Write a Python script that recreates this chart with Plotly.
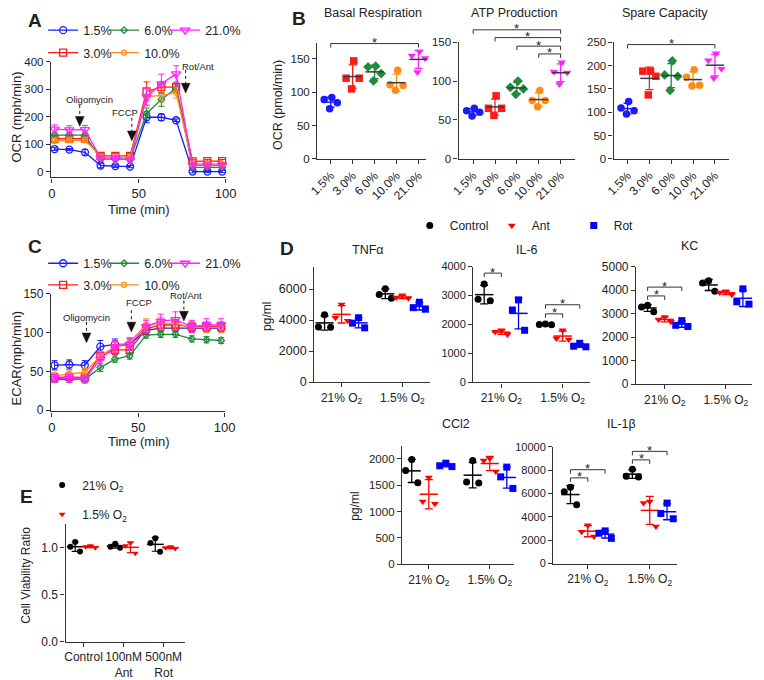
import numpy as np
import plotly.graph_objects as go

W, H = 764, 680

# ====================== DATA ======================
time_min = [1.5, 10, 19, 28, 36.5, 45, 54.5, 63, 71.5, 81, 89.5, 98]
o2_levels = ["1.5%", "3.0%", "6.0%", "10.0%", "21.0%"]

# Panel A: OCR kinetics (mean / error) in o2_levels order
ocr_mean = [
    [82, 80, 70, 22, 20, 18, 198, 198, 187, 0, 0, 0],
    [120, 120, 120, 57, 57, 57, 292, 308, 308, 37, 38, 38],
    [133, 133, 133, 45, 45, 45, 212, 263, 304, 15, 15, 15],
    [113, 115, 115, 55, 52, 52, 272, 278, 288, 28, 28, 28],
    [155, 152, 153, 50, 48, 42, 272, 320, 356, 23, 23, 23],
]
ocr_err = [
    [5, 4, 10, 8, 5, 4, 20, 12, 5, 5, 4, 4],
    [12, 12, 12, 8, 8, 8, 35, 20, 15, 6, 6, 6],
    [8, 8, 8, 8, 6, 5, 20, 25, 15, 5, 5, 5],
    [10, 10, 10, 8, 6, 6, 30, 25, 20, 5, 5, 5],
    [15, 15, 15, 8, 8, 6, 30, 35, 30, 6, 6, 6],
]
# Panel C: ECAR kinetics
ecar_mean = [
    [58, 59, 58, 82, 85, 85, 103, 106, 106, 106, 106, 106],
    [42, 43, 42, 70, 78, 78, 105, 110, 110, 108, 108, 108],
    [40, 40, 40, 55, 66, 70, 97, 98, 98, 92, 91, 90],
    [44, 47, 49, 70, 82, 88, 110, 112, 112, 107, 107, 107],
    [41, 41, 40, 66, 82, 85, 108, 115, 117, 108, 110, 110],
]
ecar_err = [
    [6, 6, 6, 8, 7, 7, 5, 5, 5, 5, 5, 5],
    [5, 5, 5, 6, 6, 6, 7, 7, 7, 6, 6, 6],
    [4, 4, 4, 5, 4, 4, 4, 4, 4, 4, 4, 4],
    [5, 5, 5, 6, 6, 6, 8, 8, 8, 7, 7, 7],
    [5, 5, 5, 8, 8, 8, 8, 9, 10, 8, 8, 8],
]

# Panel B: individual replicates per O2 level
basal_resp = [[92, 89, 84, 75], [147, 121, 121, 105], [139, 138, 128, 117],
              [133, 111, 110, 103], [161, 155, 151, 130]]
atp_prod = [[65, 62, 60, 55], [81, 65, 65, 56], [100, 92, 90, 83],
            [88, 75, 75, 67], [124, 112, 111, 96]]
spare_cap = [[123, 109, 103, 96], [188, 188, 177, 137], [210, 180, 177, 147],
             [191, 175, 158, 156], [226, 211, 193, 173]]

# Panel D: cytokines, [condition][O2 group][replicate]
conditions = ["Control", "Ant", "Rot"]
o2_groups = ["21% O<sub>2</sub>", "1.5% O<sub>2</sub>"]
tnfa_pg = [[[4350, 3560, 3540], [6020, 5650, 5400]],
           [[5000, 4150, 3950], [5600, 5450, 5400]],
           [[4150, 3800, 3500], [5150, 4800, 4700]]]
il6_pg = [[[3400, 2870, 2820], [2020, 2000, 1990]],
          [[1800, 1750, 1650], [1800, 1520, 1480]],
          [[2850, 2500, 1800], [1350, 1250, 1230]]]
kc_pg = [[[3350, 3280, 3080], [4400, 4300, 3950]],
         [[2850, 2750, 2650], [3950, 3900, 3800]],
         [[2700, 2500, 2450], [4050, 3500, 3400]]]
ccl2_pg = [[[1990, 1780, 1550], [1970, 1560, 1545]],
           [[1650, 1190, 1150], [2010, 1970, 1760]],
           [[1920, 1870, 1855], [1845, 1660, 1440]]]
il1b_pg = [[[6530, 6160, 5040], [8070, 7480, 7420]],
           [[3280, 2720, 2330], [5320, 5180, 3170]],
           [[2800, 2600, 2160], [5180, 4290, 3840]]]

# Panel E: cell viability [treatment][replicate]
treatments = ["Control", "100nM<br>Ant", "500nM<br>Rot"]
viability_21 = [[1.06, 1.01, 0.96], [1.04, 1.01, 1.00], [1.10, 1.05, 0.955]]
viability_15 = [[1.02, 1.01, 1.00], [1.05, 1.02, 0.94], [1.01, 1.00, 0.99]]

# ====================== LAYOUT GEOMETRY (pixels) ======================
AX = {
    1: dict(x=(43, 223), y=(56, 174), xr=(-0.6, 100.5), yr=(-21.4, 400)),
    2: dict(x=(316, 428), y=(37, 155), xr=(-0.62, 4.36), yr=(0, 173.5)),
    3: dict(x=(461, 580), y=(36, 155), xr=(-0.67, 4.64), yr=(0, 150)),
    4: dict(x=(620, 738), y=(36, 155), xr=(-0.64, 4.63), yr=(0, 250)),
    5: dict(x=(43, 222), y=(293, 413), xr=(-0.6, 100.5), yr=(-1.6, 150)),
    6: dict(x=(313, 432), y=(265, 383), xr=(-0.45, 1.46), yr=(0, 7450)),
    7: dict(x=(476, 596), y=(265, 383.3), xr=(-0.46, 1.45), yr=(0, 4000)),
    8: dict(x=(643, 762), y=(265, 385), xr=(-0.47, 1.43), yr=(0, 5000)),
    9: dict(x=(403, 518), y=(448, 569), xr=(-0.44, 1.40), yr=(0, 2250)),
    10: dict(x=(558, 685), y=(449, 568.3), xr=(-0.56, 1.44), yr=(0, 10000)),
    11: dict(x=(58, 180), y=(528, 648), xr=(-0.45, 2.52), yr=(0, 1.25)),
}


def ax_px(n, xv, yv):
    s = AX[n]
    (xl, xrr), (yt, yb) = s["x"], s["y"]
    (r0, r1), (q0, q1) = s["xr"], s["yr"]
    X = xl + (xv - r0) / (r1 - r0) * (xrr - xl)
    Y = yb - (yv - q0) / (q1 - q0) * (yb - yt)
    return X, Y


FONT = "Liberation Sans, Arial, sans-serif"
TXT = "#222222"
LINE = "#333333"

layout = dict(
    width=W, height=H, margin=dict(l=0, r=0, t=0, b=0),
    paper_bgcolor="white", plot_bgcolor="white",
    font=dict(family=FONT, color=TXT, size=12),
    showlegend=True,
)


def add_axes(n, xtv, xtt, ytv, xfs, yfs, xangle=0, yfmt=None):
    sx = "" if n == 1 else str(n)
    s = AX[n]
    common = dict(showline=True, linecolor=LINE, linewidth=1.2, ticks="outside",
                  ticklen=4, tickwidth=1.2, tickcolor=LINE, showgrid=False,
                  zeroline=False, fixedrange=True)
    layout["xaxis" + sx] = dict(domain=[s["x"][0] / W, s["x"][1] / W], range=list(s["xr"]),
                                anchor="y" + sx, tickmode="array", tickvals=xtv, ticktext=xtt,
                                tickfont=dict(size=xfs, color=TXT), tickangle=xangle, **common)
    ytt = [(yfmt % v) if yfmt else str(v) for v in ytv]
    layout["yaxis" + sx] = dict(domain=[1 - s["y"][1] / H, 1 - s["y"][0] / H], range=list(s["yr"]),
                                anchor="x" + sx, tickmode="array", tickvals=ytv, ticktext=ytt,
                                tickfont=dict(size=yfs, color=TXT), **common)


tv_time = [0, 50, 100]
add_axes(1, tv_time, [str(v) for v in tv_time], [0, 100, 200, 300, 400], 13, 11.5)
cat_idx = list(range(len(o2_levels)))
add_axes(2, cat_idx, o2_levels, [0, 50, 100, 150], 12, 11.5, xangle=-45)
add_axes(3, cat_idx, o2_levels, [0, 50, 100, 150], 12, 11.5, xangle=-45)
add_axes(4, cat_idx, o2_levels, [0, 50, 100, 150, 200, 250], 12, 11.5, xangle=-45)
add_axes(5, tv_time, [str(v) for v in tv_time], [0, 50, 100, 150], 13, 12)
grp_idx = [0, 1]
add_axes(6, grp_idx, o2_groups, [0, 2000, 4000, 6000], 12, 12.5)
add_axes(7, grp_idx, o2_groups, [0, 1000, 2000, 3000, 4000], 12, 11)
add_axes(8, grp_idx, o2_groups, [0, 1000, 2000, 3000, 4000, 5000], 12, 12)
add_axes(9, grp_idx, o2_groups, [0, 500, 1000, 1500, 2000], 12, 11.5)
add_axes(10, grp_idx, o2_groups, [0, 2000, 4000, 6000, 8000, 10000], 12, 11)
add_axes(11, list(range(len(treatments))), treatments, [0, 0.5, 1.0], 12, 12, yfmt="%.1f")


def axref(n):
    return ("x", "y") if n == 1 else ("x%d" % n, "y%d" % n)


fig = go.Figure()

# ---------------- Panels A & C: kinetic curves ----------------
lvl_color = ["#1a1aff", "#ff1a1a", "#1e8c3a", "#ff8c1a", "#ff22ff"]
lvl_symbol_line = ["circle-open", "square-open", "diamond-open", "circle-open", "triangle-down-open"]
lvl_size_line = [7, 7, 5, 5, 8]
row1 = ["1.5%", "6.0%", "21.0%"]

for n, means, errs, legs in [(1, ocr_mean, ocr_err, ("legend", "legend2")),
                             (5, ecar_mean, ecar_err, ("legend3", "legend4"))]:
    xr_, yr_ = axref(n)
    for i, lvl in enumerate(o2_levels):
        c = lvl_color[i]
        fig.add_trace(go.Scatter(
            x=time_min, y=means[i], xaxis=xr_, yaxis=yr_, mode="lines+markers", name=lvl,
            legend=legs[0] if lvl in row1 else legs[1],
            legendwidth=34 if lvl in ("21.0%", "10.0%") else None,
            line=dict(color=c, width=1.3),
            marker=dict(symbol=lvl_symbol_line[i], size=lvl_size_line[i], color=c,
                        line=dict(color=c, width=1.3)),
            error_y=dict(type="data", array=errs[i], color=c, thickness=1, width=3),
            cliponaxis=False,
        ))

# ---------------- Panel B: dot plots ----------------
lvl_symbol_dot = ["circle", "square", "diamond", "circle", "triangle-down"]
jit4 = [0.05, -0.3, 0.3, -0.05]
for n, data in [(2, basal_resp), (3, atp_prod), (4, spare_cap)]:
    xr_, yr_ = axref(n)
    for i, vals in enumerate(data):
        c = lvl_color[i]
        fig.add_trace(go.Scatter(
            x=[i + j for j in jit4], y=vals, xaxis=xr_, yaxis=yr_, mode="markers",
            showlegend=False, marker=dict(symbol=lvl_symbol_dot[i], size=7.5, color=c),
            cliponaxis=False))
        fig.add_trace(go.Scatter(
            x=[i], y=[float(np.mean(vals))], xaxis=xr_, yaxis=yr_, mode="markers",
            showlegend=False,
            marker=dict(symbol="line-ew", size=13, line=dict(width=1.5, color="#3a3a3a" if i else c)),
            error_y=dict(type="data", array=[float(np.std(vals, ddof=1))], color=c,
                         thickness=1.3, width=4),
            cliponaxis=False))

# ---------------- Panel D: cytokines ----------------
cond_color = ["#000000", "#ff0000", "#0000ff"]
cond_symbol = ["circle", "triangle-down", "square"]
cond_off = [-0.28, 0.0, 0.28]
jit3 = [0.0, -0.1, 0.1]
for n, data in [(6, tnfa_pg), (7, il6_pg), (8, kc_pg), (9, ccl2_pg), (10, il1b_pg)]:
    xr_, yr_ = axref(n)
    for k, cond in enumerate(conditions):
        xs, ys, mx, my, sd = [], [], [], [], []
        for g, vals in enumerate(data[k]):
            xs += [g + cond_off[k] + j for j in jit3]
            ys += vals
            mx.append(g + cond_off[k])
            my.append(float(np.mean(vals)))
            sd.append(float(np.std(vals, ddof=1)))
        fig.add_trace(go.Scatter(
            x=xs, y=ys, xaxis=xr_, yaxis=yr_, mode="markers", name=cond,
            legend="legend5", showlegend=(n == 6),
            legendwidth=30 if k == 2 else None,
            marker=dict(symbol=cond_symbol[k], size=7, color=cond_color[k]),
            cliponaxis=False))
        fig.add_trace(go.Scatter(
            x=mx, y=my, xaxis=xr_, yaxis=yr_, mode="markers", showlegend=False,
            marker=dict(symbol="line-ew", size=13, line=dict(width=1.5, color=cond_color[k])),
            error_y=dict(type="data", array=sd, color=cond_color[k], thickness=1.3, width=4),
            cliponaxis=False))

# ---------------- Panel E: viability ----------------
xr_, yr_ = axref(11)
for data, name, c, sym, off, leg in [
        (viability_21, "21% O<sub>2</sub>", "#000000", "circle", -0.21, "legend6"),
        (viability_15, "1.5% O<sub>2</sub>", "#ff0000", "triangle-down", 0.17, "legend7")]:
    xs, ys, mx, my, sd = [], [], [], [], []
    for t, vals in enumerate(data):
        xs += [t + off + j for j in [0.0, -0.12, 0.12]]
        ys += vals
        mx.append(t + off)
        my.append(float(np.mean(vals)))
        sd.append(float(np.std(vals, ddof=1)))
    fig.add_trace(go.Scatter(x=xs, y=ys, xaxis=xr_, yaxis=yr_, mode="markers", name=name,
                             legend=leg, marker=dict(symbol=sym, size=6, color=c),
                             cliponaxis=False))
    fig.add_trace(go.Scatter(x=mx, y=my, xaxis=xr_, yaxis=yr_, mode="markers", showlegend=False,
                             marker=dict(symbol="line-ew", size=12, line=dict(width=1.5, color=c)),
                             error_y=dict(type="data", array=sd, color=c, thickness=1.2, width=3.5),
                             cliponaxis=False))


# ---------------- legends ----------------
def leg(xpx, ypx, **kw):
    d = dict(x=xpx / W, y=1 - ypx / H, xanchor="left", yanchor="middle", orientation="h",
             bgcolor="rgba(0,0,0,0)", borderwidth=0, font=dict(size=12.5, color=TXT),
             itemclick=False, itemdoubleclick=False, tracegroupgap=0)
    d.update(kw)
    return d


layout["legend"] = leg(35, 24, entrywidth=16)
layout["legend2"] = leg(35, 47, entrywidth=16)
layout["legend3"] = leg(35, 262, entrywidth=16)
layout["legend4"] = leg(35, 284, entrywidth=16)
layout["legend5"] = leg(411, 223, entrywidth=37, font=dict(size=12, color=TXT))
layout["legend6"] = leg(34, 488, font=dict(size=12, color=TXT))
layout["legend7"] = leg(34, 518, font=dict(size=12, color=TXT))

# ---------------- annotations & shapes ----------------
annotations = []
shapes = []


def text_px(x, y, s, size=12, angle=0, bold=False, xanchor="center"):
    annotations.append(dict(x=x / W, y=1 - y / H, xref="paper", yref="paper",
                            text=("<b>%s</b>" % s) if bold else s, showarrow=False,
                            font=dict(size=size, color=TXT, family=FONT), textangle=angle,
                            xanchor=xanchor, yanchor="middle"))


# panel letters
for s, x, y in [("A", 27, 14), ("B", 297, 12), ("C", 27, 245), ("D", 285, 247), ("E", 18, 500)]:
    text_px(x, y, s, size=19, bold=True)

# titles
for s, x, y in [("Basal Respiration", 373, 6), ("ATP Production", 518, 6), ("Spare Capacity", 673, 6),
                ("TNFα", 368, 248), ("IL-6", 531, 248), ("KC", 698, 244),
                ("CCl2", 458, 426), ("IL-1β", 628, 426)]:
    text_px(x, y, s, size=12.5)

# axis titles
text_px(8, 112, "OCR (mph/min)", size=13, angle=-90)
text_px(8, 358, "ECAR(mph/min)", size=13, angle=-90)
text_px(133, 207, "Time (min)", size=13)
text_px(133, 444, "Time (min)", size=13)
text_px(276, 100, "OCR (pmol/min)", size=12.5, angle=-90)
text_px(265, 316, "pg/ml", size=12, angle=-90)
text_px(354, 510, "pg/ml", size=12, angle=-90)
text_px(17, 580, "Cell Viability Ratio", size=12, angle=-90)


def bracket(n, x0, x1, yv, tip=4):
    X0, Y = ax_px(n, x0, yv)
    X1, _ = ax_px(n, x1, yv)
    p = "M{a},{b} L{a},{c} L{d},{c} L{d},{b}".format(
        a=X0 / W, b=1 - (Y + tip) / H, c=1 - Y / H, d=X1 / W)
    shapes.append(dict(type="path", path=p, xref="paper", yref="paper",
                       line=dict(color=LINE, width=1)))
    annotations.append(dict(x=(X0 + X1) / 2 / W, y=1 - (Y - 1) / H, xref="paper", yref="paper",
                            text="*", showarrow=False, font=dict(size=13, color=TXT, family=FONT),
                            xanchor="center", yanchor="middle"))


bracket(2, 0, 4, 173)
for x0, yv in [(0, 166), (1, 156), (2, 145), (3, 135)]:
    bracket(3, x0, 4, yv)
bracket(4, 0, 4, 245)
bracket(7, -0.28, 0, 3773)
bracket(7, 0.72, 1.0, 2367)
bracket(7, 0.72, 1.28, 2681)
bracket(8, -0.28, 0, 3750)
bracket(8, -0.28, 0.28, 4125)
bracket(10, -0.28, 0, 7336)
bracket(10, -0.28, 0.28, 8034)
bracket(10, 0.72, 1.0, 8875)
bracket(10, 0.72, 1.28, 9605)


def inj_arrow(n, t, v_top, v_tip, label, lx, ly):
    X, Yt = ax_px(n, t, v_top)
    _, Yp = ax_px(n, t, v_tip)
    shapes.append(dict(type="line", xref="paper", yref="paper", x0=X / W, x1=X / W,
                       y0=1 - Yt / H, y1=1 - (Yp - 9) / H,
                       line=dict(color="#111", width=1, dash="dot")))
    head = "M{a},{b} L{c},{b} L{x},{t} Z".format(
        a=(X - 4.5) / W, c=(X + 4.5) / W, b=1 - (Yp - 10) / H, x=X / W, t=1 - Yp / H)
    shapes.append(dict(type="path", path=head, xref="paper", yref="paper",
                       fillcolor="#111", line=dict(color="#111", width=0.5)))
    text_px(lx, ly, label, size=9.5)


inj_arrow(1, 16, 243, 165, "Oligomycin", 83, 94)
inj_arrow(1, 46, 196, 112, "FCCP", 119, 108)
inj_arrow(1, 77, 371, 286, "Rot/Ant", 194, 61)
inj_arrow(5, 20, 114, 87, "Oligomycin", 79, 317)
inj_arrow(5, 46, 129, 101, "FCCP", 133, 302)
inj_arrow(5, 76.4, 141.5, 115, "Rot/Ant", 182, 295)

layout["annotations"] = annotations
layout["shapes"] = shapes
fig.update_layout(**layout)
fig.write_html("out.html", config={"displayModeBar": False},
               post_script="document.body.style.margin='0';document.body.style.padding='0';"
                           "document.body.style.overflow='hidden';")
